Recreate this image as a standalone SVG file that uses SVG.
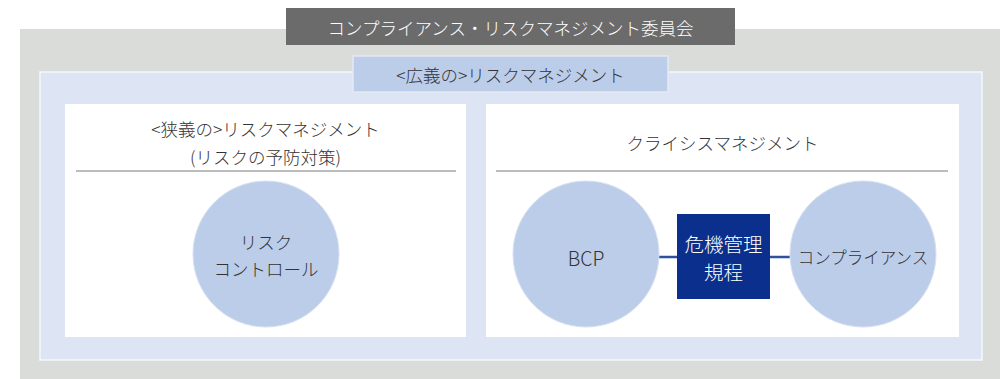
<svg xmlns="http://www.w3.org/2000/svg" width="1000" height="379" viewBox="0 0 1000 379">
<style>
text{font-family:"Noto Sans CJK JP","Noto Sans",sans-serif;font-size:17.5px;font-weight:300;text-anchor:middle;dominant-baseline:central;fill:#333}
.w{fill:#fff}
.big{font-size:19.5px}
.circ{fill:#bccde9;stroke:#d6e0f1;stroke-width:1}
.rule{stroke:#7a7a7a;stroke-width:1.2}
.conn{stroke:#2f4f9f;stroke-width:2.5;fill:none}
</style>
<rect x="20" y="29" width="990" height="360" fill="#dadcda"/>
<g id="committee">
<rect x="286" y="8" width="449" height="37" fill="#6b6b6b"/>
<text class="w" x="510.5" y="27">コンプライアンス・リスクマネジメント委員会</text>
</g>
<g id="broad">
<rect x="40" y="72" width="942" height="288" fill="#dde4f3" stroke="#f5f7fb" stroke-width="1.5"/>
<rect x="353" y="56" width="315" height="36" fill="#bccde9" stroke="#e3e9f5" stroke-width="1.5"/>
<text x="510.5" y="74">&lt;広義の&gt;リスクマネジメント</text>
</g>
<g id="narrow">
<rect x="65" y="104" width="401" height="233" fill="#fff"/>
<text x="265.5" y="128">&lt;狭義の&gt;リスクマネジメント</text>
<text x="265.5" y="156">(リスクの予防対策)</text>
<line class="rule" x1="76" y1="171" x2="456" y2="171"/>
</g>
<g id="risk-control">
<circle class="circ" cx="266" cy="254" r="73"/>
<text x="266" y="241">リスク</text>
<text x="266" y="268">コントロール</text>
</g>
<g id="crisis">
<rect x="486" y="104" width="473" height="233" fill="#fff"/>
<text x="722.5" y="142">クライシスマネジメント</text>
<line class="rule" x1="496" y1="171" x2="948" y2="171"/>
</g>
<g id="connectors">
<line class="conn" x1="658" y1="257" x2="677" y2="257"/>
<line class="conn" x1="770" y1="257" x2="790" y2="257"/>
</g>
<g id="bcp">
<circle class="circ" cx="586" cy="254" r="73"/>
<text class="big" x="586" y="257">BCP</text>
</g>
<g id="rules">
<rect x="677" y="214" width="93" height="85" fill="#0a2f8c"/>
<text class="w big" x="723.5" y="243">危機管理</text>
<text class="w big" x="723.5" y="271">規程</text>
</g>
<g id="compliance">
<circle class="circ" cx="863" cy="254" r="73"/>
<text x="863" y="257" style="font-size:16.5px">コンプライアンス</text>
</g>
</svg>
